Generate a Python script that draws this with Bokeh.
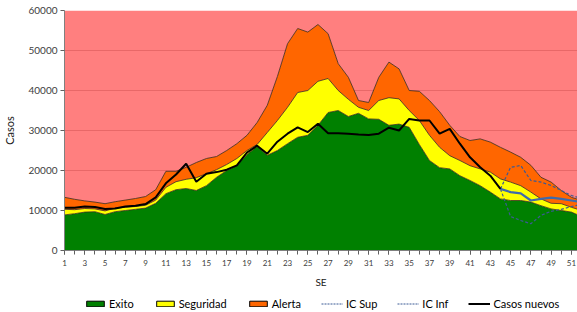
from bokeh.plotting import figure
from bokeh.layouts import column
from bokeh.models import ColumnDataSource, Legend, LegendItem, FixedTicker, Range1d
from bokeh.embed import file_html
from bokeh.resources import INLINE

# ---------------- data ----------------
semanas = list(range(1, 53))
exito = [8900, 9200, 9600, 9700, 9000, 9700, 10000, 10300, 10600, 11800,
         14200, 15200, 15500, 15000, 16200, 18300, 20000, 21200, 24000, 26000,
         23800, 25000, 26700, 28300, 28800, 31300, 34500, 35000, 33500, 34300,
         32900, 32800, 31300, 31600, 30800, 26500, 22500, 20700, 20400, 18700,
         17500, 16200, 14600, 12900, 12500, 12500, 12100, 11200, 10400, 10000,
         9600, 8500]
seguridad = [10300, 10200, 10500, 10400, 9900, 10600, 10800, 11000, 11300, 12600,
             15800, 17200, 17800, 18200, 19200, 20200, 21500, 23000, 25000, 26500,
             29500, 32500, 35800, 39500, 40000, 42300, 43000, 40000, 37800, 35800,
             35000, 37500, 38200, 37900, 35000, 32500, 28800, 25800, 23700, 22500,
             21200, 20400, 19600, 17900, 17100, 16200, 14600, 12900, 11800, 11700,
             10800, 10000]
alerta = [13300, 12800, 12400, 12100, 11700, 12200, 12600, 13000, 13500, 15200,
          19800, 19800, 20800, 22000, 23000, 23500, 25000, 26700, 28800, 32000,
          36300, 43500, 51700, 55500, 54600, 56500, 54200, 46700, 43300, 37500,
          37000, 43300, 47100, 45400, 40000, 39800, 37500, 34700, 31300, 28500,
          27500, 27900, 27100, 25800, 24600, 23300, 21300, 18300, 17100, 15000,
          13300, 12500]
epidemia_tope = [60000] * 52

semanas_casos = list(range(1, 45))
casos_nuevos = [10700, 10700, 11000, 10900, 10400, 10500, 11000, 11200, 11600, 13300,
                16800, 19000, 21700, 17200, 19200, 19600, 20200, 21300, 24500, 26200,
                24200, 27200, 29200, 30800, 29600, 31700, 29300, 29300, 29200, 29000,
                28900, 29200, 30700, 30000, 32900, 32500, 32500, 29200, 30400, 26700,
                23300, 20800, 18700, 15400]

semanas_ic = list(range(44, 53))
ic_sup = [15400, 20800, 21250, 17500, 17100, 16250, 15000, 13750, 13000]
ic_inf = [15400, 8500, 7500, 6700, 8800, 9800, 10300, 11000, 11500]
proyeccion = [15400, 14600, 14300, 12500, 12900, 13200, 12900, 12500, 12100]

y_ticks = [0, 10000, 20000, 30000, 40000, 50000, 60000]
x_ticks = list(range(1, 52, 2))
x_minor = list(range(1, 53))

FONT = "Lato"
TXT = "#404040"
C_EX, C_SE, C_AL, C_IC, C_PR = "#008000", "#FFFF00", "#FF6600", "#3b5a94", "#3f6aaa"

p = figure(width=577, height=292, output_backend="svg", toolbar_location=None,
           x_range=Range1d(1, 51.6), y_range=Range1d(0, 60000),
           min_border_top=10, min_border_left=64, min_border_right=0, min_border_bottom=42)
p.outline_line_color = None
p.background_fill_color = "white"

# areas
p.varea(x=semanas, y1=[0] * 52, y2=exito, fill_color=C_EX)
p.varea(x=semanas, y1=exito, y2=seguridad, fill_color=C_SE)
p.varea(x=semanas, y1=seguridad, y2=alerta, fill_color=C_AL)
p.varea(x=semanas, y1=alerta, y2=epidemia_tope, fill_color="#FF0000", fill_alpha=0.5)

# outlines
for serie in (exito, seguridad, alerta):
    p.line(semanas, serie, line_color="#3a2a1a", line_width=0.8)

# lines
p.line(semanas_ic, ic_sup, line_color=C_IC, line_width=1.2, line_dash="3 2")
p.line(semanas_ic, ic_inf, line_color=C_IC, line_width=1.2, line_dash="3 2")
p.line(semanas_ic, proyeccion, line_color=C_PR, line_width=2.2)
p.line(semanas_casos, casos_nuevos, line_color="black", line_width=2)

# axes
p.xaxis.ticker = FixedTicker(ticks=x_ticks, minor_ticks=x_minor)
p.yaxis.ticker = FixedTicker(ticks=y_ticks)
p.ygrid.ticker = FixedTicker(ticks=y_ticks)
p.xgrid.visible = False
p.ygrid.grid_line_color = "#d0d0d0"
p.ygrid.grid_line_width = 1

for ax in (p.xaxis[0], p.yaxis[0]):
    ax.axis_line_color = "#808080"
    ax.major_tick_line_color = "#606060"
    ax.minor_tick_line_color = "#606060"
    ax.major_tick_in = 0
    ax.minor_tick_in = 0
    ax.major_label_text_font = FONT
    ax.major_label_text_color = TXT
    ax.axis_label_text_font = FONT
    ax.axis_label_text_font_style = "normal"
    ax.axis_label_text_color = "#202020"

p.xaxis.major_tick_out = 4
p.xaxis.minor_tick_out = 4
p.xaxis.major_label_standoff = 5
p.xaxis.major_label_text_font_size = "8px"
p.xaxis.axis_label = "SE"
p.xaxis.axis_label_text_font_size = "10px"
p.xaxis.axis_label_standoff = 7

p.yaxis.major_tick_out = 4
p.yaxis.minor_tick_out = 0
p.yaxis.major_label_standoff = 3
p.yaxis.major_label_text_font_size = "10px"
p.yaxis.axis_label = "Casos"
p.yaxis.axis_label_text_font_size = "11px"
p.yaxis.axis_label_standoff = 9

# ---------------- legend strip ----------------
lg = figure(width=577, height=20, output_backend="svg", toolbar_location=None,
            x_range=Range1d(1, 51.6), y_range=Range1d(0, 60000),
            x_axis_type=None, y_axis_type=None, min_border=0)
lg.outline_line_color = None
lg.xgrid.visible = False
lg.ygrid.visible = False

def box(serie, color):
    src = ColumnDataSource(dict(left=semanas, right=semanas, top=serie, bottom=serie))
    r = lg.quad(source=src, fill_color=color, line_color="black", line_width=1)
    r.visible = False
    return r

def linea(xs, ys, **kw):
    r = lg.line(xs, ys, **kw)
    r.visible = False
    return r

r_ex = box(exito, C_EX)
r_se = box(seguridad, C_SE)
r_al = box(alerta, C_AL)
r_sup = linea(semanas_ic, ic_sup, line_color=C_IC, line_width=1, line_dash="2 1")
r_inf = linea(semanas_ic, ic_inf, line_color=C_IC, line_width=1, line_dash="2 1")
r_casos = linea(semanas_casos, casos_nuevos, line_color="black", line_width=2)

legend = Legend(items=[
    LegendItem(label="Exito", renderers=[r_ex]),
    LegendItem(label="Seguridad", renderers=[r_se]),
    LegendItem(label="Alerta", renderers=[r_al]),
    LegendItem(label="IC Sup", renderers=[r_sup]),
    LegendItem(label="IC Inf", renderers=[r_inf]),
    LegendItem(label="Casos nuevos", renderers=[r_casos]),
], orientation="horizontal", location=(20, 2))
legend.glyph_width = 22
legend.glyph_height = 7
legend.label_standoff = 3
legend.spacing = 20
legend.padding = 2
legend.margin = 0
legend.label_height = 12
legend.border_line_color = None
legend.background_fill_alpha = 0
legend.label_text_font = FONT
legend.label_text_font_size = "11px"
legend.label_text_color = "black"
lg.add_layout(legend)

layout = column(p, lg, spacing=0)
open("out.html", "w").write(file_html(layout, INLINE))
